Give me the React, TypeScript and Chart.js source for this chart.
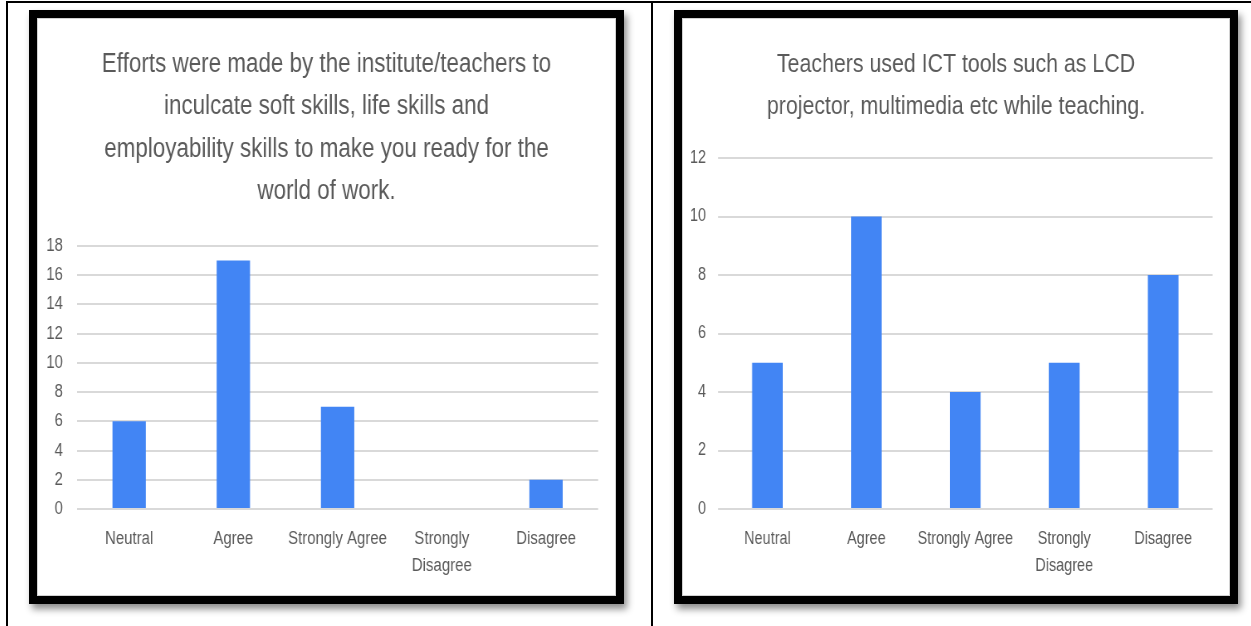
import React, { useEffect, useRef } from 'react';
import { Chart, registerables } from 'chart.js';

Chart.register(...registerables);

// ---- data ----
const categoryLabels: string[][] = [
  ['Neutral'],
  ['Agree'],
  ['Strongly Agree'],
  ['Strongly', 'Disagree'],
  ['Disagree'],
];

const effortsTitle = [
  'Efforts were made by the institute/teachers to',
  'inculcate soft skills, life skills and',
  'employability skills to make you ready for the',
  'world of work.',
];
const effortsValues = [6, 17, 7, 0, 2];
const effortsAxisMax = 18;

const ictTitle = [
  'Teachers used ICT tools such as LCD',
  'projector, multimedia etc while teaching.',
];
const ictValues = [5, 10, 4, 5, 8];
const ictAxisMax = 12;

const tickStep = 2;

// ---- styling ----
const FONT = "'Liberation Sans', Arial, sans-serif";
const BAR_BLUE = '#4285F4';
const TEXT_GREY = '#5a5a5a';
const GRID_GREY = '#d9d9d9';

type PanelProps = {
  left: number;
  width: number;
  sx: number;
  title: string[];
  titleSize: number;
  values: number[];
  axisMax: number;
  plotLeft: number; // screen px, relative to inner content
  plotRight: number; // screen px, relative to inner content
  labelRight: number; // screen px, right edge of y tick labels
  titlePadBottom: number;
  barPct: number;
};

function ChartPanel(p: PanelProps) {
  const ref = useRef<HTMLCanvasElement | null>(null);
  const frameTop = 10;
  const frameH = 594;
  const innerW = p.width - 16 - 2;
  const innerH = frameH - 16 - 2;
  const canvasW = Math.round(innerW / p.sx);
  const cLeft = p.plotLeft / p.sx;
  const cRight = p.plotRight / p.sx;
  const rightGap = canvasW - cRight;
  const yTickPad = (p.plotLeft - p.labelRight) / p.sx;

  useEffect(() => {
    if (!ref.current) return;
    const chart = new Chart(ref.current, {
      type: 'bar',
      data: {
        labels: categoryLabels,
        datasets: [
          {
            data: p.values,
            backgroundColor: BAR_BLUE,
            borderWidth: 0,
            barPercentage: p.barPct,
            categoryPercentage: 1,
            yAxisID: 'y',
          },
        ],
      },
      options: {
        animation: false,
        responsive: false,
        devicePixelRatio: 1,
        layout: { padding: 0 },
        plugins: {
          legend: { display: false },
          tooltip: { enabled: false },
          title: {
            display: true,
            text: p.title,
            color: TEXT_GREY,
            font: { family: FONT, size: p.titleSize, weight: 'normal', lineHeight: 42.5 / p.titleSize },
            padding: { top: 24, bottom: p.titlePadBottom },
          },
        },
        scales: {
          x: {
            grid: { display: false },
            border: { display: false },
            ticks: {
              color: TEXT_GREY,
              font: { family: FONT, size: 18, lineHeight: 27 / 18 },
              padding: 9,
              maxRotation: 0,
              minRotation: 0,
              autoSkip: false,
            },
            afterFit: (s: any) => {
              s.height = 86;
            },
          },
          y: {
            min: 0,
            max: p.axisMax,
            ticks: {
              stepSize: tickStep,
              color: TEXT_GREY,
              font: { family: FONT, size: 18 },
              padding: yTickPad,
            },
            grid: { color: GRID_GREY, lineWidth: 2, drawTicks: false },
            border: { display: false },
            afterFit: (s: any) => {
              s.width = cLeft;
            },
          },
          // empty right-hand spacer so the plot ends where it does in the reference
          ySpacer: {
            type: 'linear',
            position: 'right',
            min: 0,
            max: p.axisMax,
            grid: { display: false, drawTicks: false },
            border: { display: false },
            ticks: { display: false },
            afterFit: (s: any) => {
              s.width = rightGap;
            },
          },
        },
      },
    });
    return () => chart.destroy();
  }, []);

  return (
    <div
      style={{
        position: 'absolute',
        left: p.left,
        top: frameTop,
        width: p.width,
        height: frameH,
        boxSizing: 'border-box',
        border: '8px solid #000',
        background: '#fff',
        boxShadow: '3px 5px 7px rgba(0,0,0,0.45)',
      }}
    >
      <div
        style={{
          position: 'absolute',
          left: 0,
          top: 0,
          right: 0,
          bottom: 0,
          border: '1px solid #d2d2d2',
        }}
      >
        <canvas
          ref={ref}
          width={canvasW}
          height={innerH}
          style={{ position: 'absolute', left: 0, top: 0, width: innerW, height: innerH, display: 'block' }}
        />
      </div>
    </div>
  );
}

export default function App() {
  return (
    <div
      style={{
        position: 'fixed',
        left: 0,
        top: 0,
        width: 1251,
        height: 626,
        background: '#fff',
        overflow: 'hidden',
      }}
    >
      {/* table rules */}
      <div style={{ position: 'absolute', left: 6, top: 1, width: 1245, height: 2, background: '#000' }} />
      <div style={{ position: 'absolute', left: 6, top: 1, width: 2, height: 625, background: '#000' }} />
      <div style={{ position: 'absolute', left: 651, top: 1, width: 2, height: 625, background: '#000' }} />

      <ChartPanel
        left={29}
        width={595}
        sx={0.83}
        title={effortsTitle}
        titleSize={27}
        values={effortsValues}
        axisMax={effortsAxisMax}
        plotLeft={39}
        plotRight={560}
        labelRight={25}
        titlePadBottom={33}
        barPct={0.32}
      />
      <ChartPanel
        left={674}
        width={564}
        sx={0.8}
        title={ictTitle}
        titleSize={26.7}
        values={ictValues}
        axisMax={ictAxisMax}
        plotLeft={35}
        plotRight={530}
        labelRight={23}
        titlePadBottom={30}
        barPct={0.31}
      />
    </div>
  );
}
